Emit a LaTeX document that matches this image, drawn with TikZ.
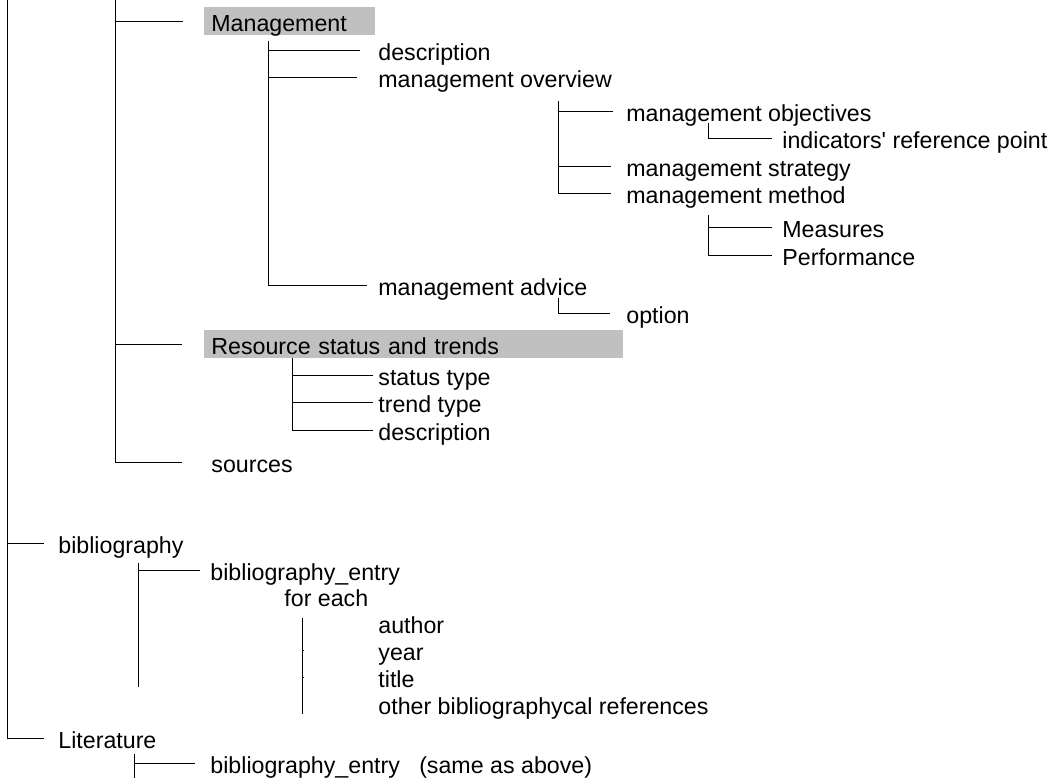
\documentclass[tikz,border=0pt]{standalone}
\usepackage{fontspec}
\setmainfont{Liberation Sans}
\usepackage{tikz}
\usetikzlibrary{calc,backgrounds}
\definecolor{bandgray}{HTML}{C0C0C0}
\tikzstyle{leaf}=[
  anchor=base west, inner sep=0pt, text height=9.5pt, text depth=0pt
]
\tikzstyle{band}=[
  anchor=base west, fill=bandgray, inner xsep=3.5pt, inner ysep=1pt,
  text height=11pt, text depth=1pt, align=left
]
\tikzstyle{branch}=[
  line width=1pt
]
\tikzset{
  gap/.style={shorten >=#1},
}

\begin{document}
\begin{tikzpicture}[x=0.5pt,y=-0.5pt,font=\fontsize{11.6}{14}\selectfont]
        \useasboundingbox (0,0) rectangle (1055,778);
        % management
        \node (mgmt) at (204,31) [band, text width=78.5pt] {Management};
        \node (desca) at (378,60) [leaf] {description};
        \node (overview) at (378,87) [leaf] {management overview};
        \node (objectives) at (626,121) [leaf] {management objectives};
        \node (indicators) at (782,148) [leaf] {indicators\textquotesingle{} reference point};
        \node (strategy) at (626,176) [leaf] {management strategy};
        \node (method) at (626,203) [leaf] {management method};
        \node (measures) at (782,237) [leaf] {Measures};
        \node (performance) at (782,265) [leaf] {Performance};
        \node (advice) at (378,295) [leaf] {management advice};
        \node (option) at (626,323) [leaf] {option};
        % resource status
        \node (resource) at (204,354) [band, text width=202.5pt] {Resource status and trends};
        \node (status) at (378,385) [leaf] {status type};
        \node (trend) at (378,412) [leaf] {trend type};
        \node (descb) at (378,440) [leaf] {description};
        \node (sources) at (211,472) [leaf] {sources};
        % bibliography
        \node (biblio) at (58,553) [leaf] {bibliography};
        \node (entry) at (210,580) [leaf] {bibliography\_entry};
        \node (foreach) at (284,606) [leaf] {for each};
        \node (author) at (378,633) [leaf] {author};
        \node (year) at (378,660) [leaf] {year};
        \node (title) at (378,687) [leaf] {title};
        \node (other) at (378,714) [leaf] {other bibliographycal references};
        \node (literature) at (58,748) [leaf] {Literature};
        \node (entrysame) at (210,773) [leaf] {bibliography\_entry\ \ \ (same as above)};

        \coordinate (t0) at (7,0);
        \coordinate (t1) at (115,0);
        \coordinate (t2) at (268,41);
        \coordinate (t3) at (558,101);
        \coordinate (t4) at (708,123);
        \coordinate (t5) at (708,215);
        \coordinate (t6) at (558,298);
        \coordinate (t7) at (292,358);
        \coordinate (t8) at (138,563);
        \coordinate (t9) at (302,618);
        \coordinate (t10) at (134,754);
        \coordinate (litend) at (134,778);

        \begin{scope}[on background layer, branch]
          \draw[gap=7pt] (t0) |- (literature.west);
          \draw[gap=7pt] (t0 |- biblio.west) -- (biblio.west);
          \draw[gap=14.5pt] (t1) |- (sources.west);
          \draw[gap=10.5pt] (t1 |- mgmt.west) -- (mgmt.west);
          \draw[gap=11pt] (t1 |- resource.west) -- (resource.west);

          \draw[gap=5.5pt] (t2) |- (advice.west);
          \draw[gap=9pt] (t2 |- desca.west) -- (desca.west);
          \draw[gap=10.5pt] (t2 |- overview.west) -- (overview.west);
          \draw[gap=7.5pt] (t3) |- (method.west);
          \draw[gap=6.5pt] (t3 |- objectives.west) -- (objectives.west);
          \draw[gap=7.5pt] (t3 |- strategy.west) -- (strategy.west);
          \draw[gap=5pt] (t4) |- (indicators.west);
          \draw[gap=5pt] (t5) |- (performance.west);
          \draw[gap=5pt] (t5 |- measures.west) -- (measures.west);
          \draw[gap=8pt] (t6) |- (option.west);

          \draw[gap=2.5pt] (t7) |- (descb.west);
          \draw[gap=2.5pt] (t7 |- status.west) -- (status.west);
          \draw[gap=2.5pt] (t7 |- trend.west) -- (trend.west);

          \draw (t8) -- (t8 |- title.base);
          \draw[gap=5pt] (t8 |- entry.west) -- (entry.west);
          \draw (t9) -- (t9 |- other.base);
          \draw (t9 |- year.west) -- ++(2,0);
          \draw (t9 |- title.west) -- ++(2,0);
          \draw (t10) -- (litend);
          \draw[gap=7.5pt] (t10 |- entrysame.west) -- (entrysame.west);
        \end{scope}
\end{tikzpicture}
\end{document}
